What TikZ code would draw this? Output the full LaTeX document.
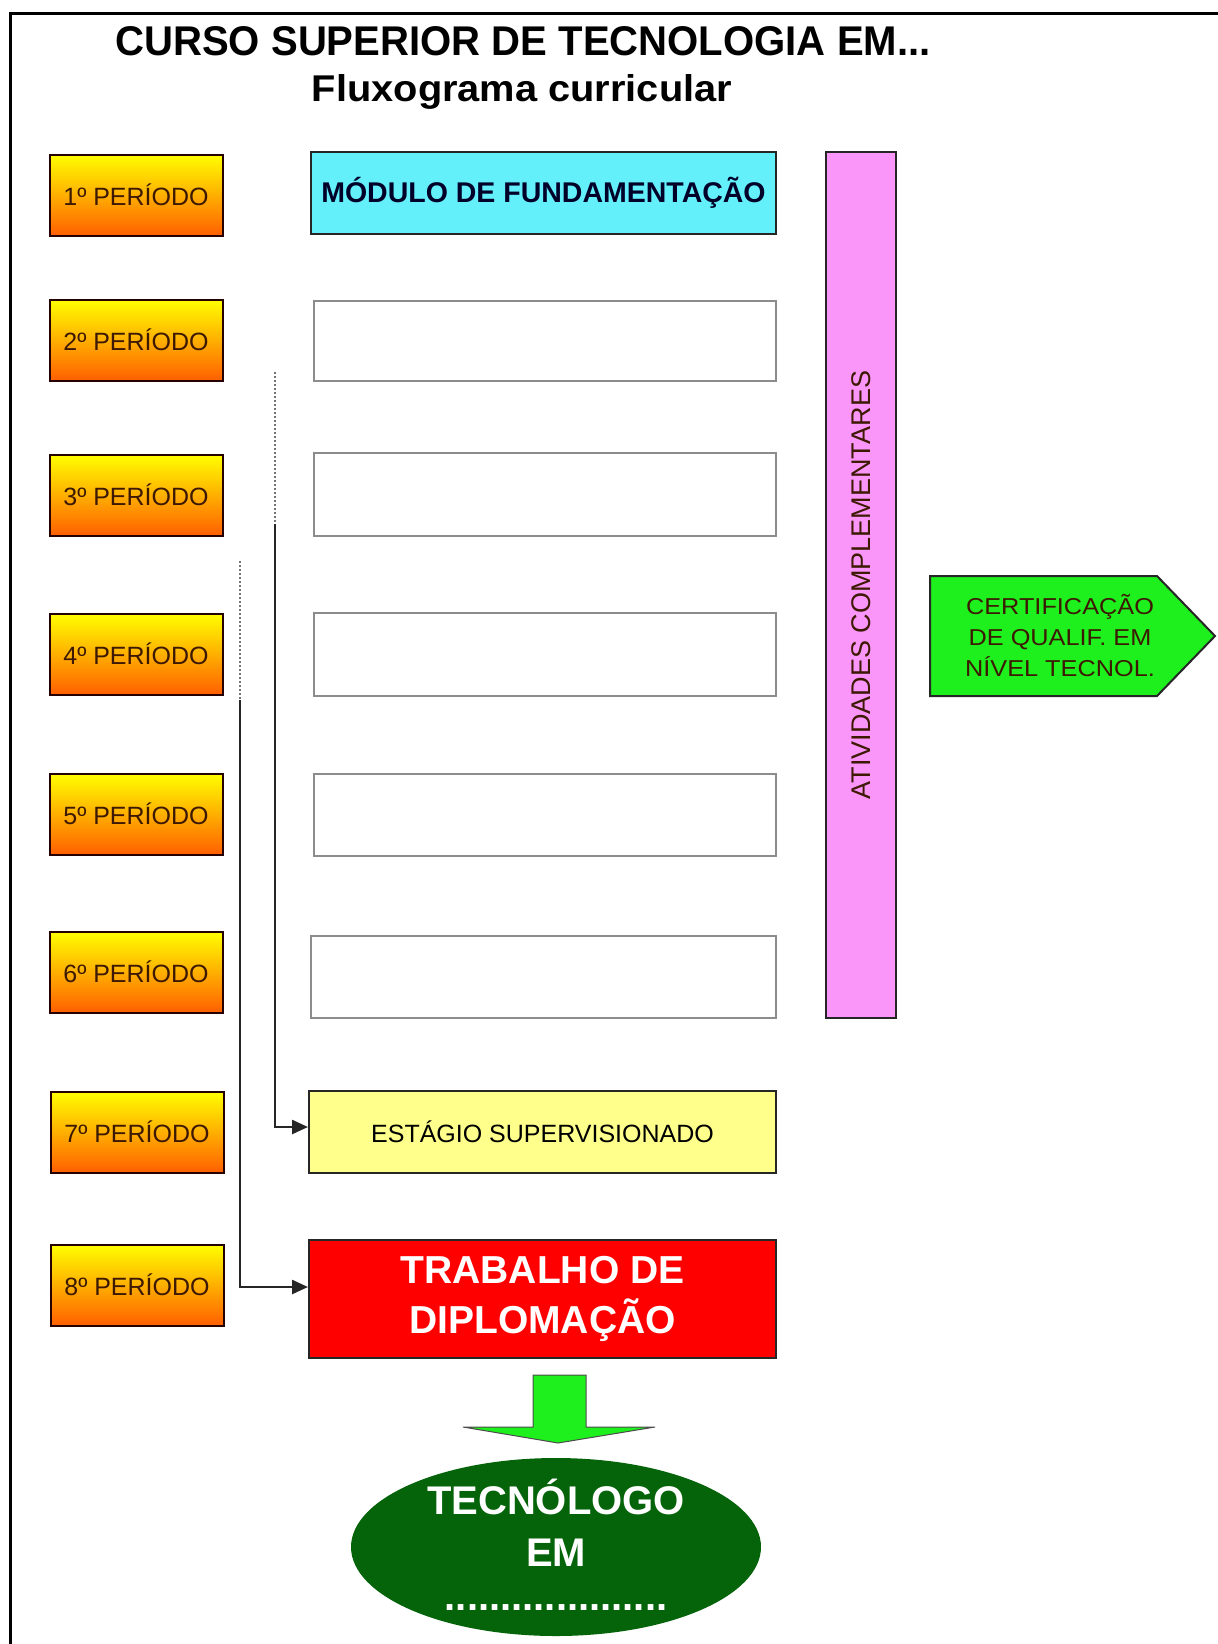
\documentclass[tikz,border=0pt]{standalone}
\usepackage{fontspec}
\usepackage{graphicx}
\setmainfont{Liberation Sans}
\usetikzlibrary{arrows.meta,shapes.geometric}
\definecolor{cyanbox}{RGB}{100,240,250}
\definecolor{pinkbox}{RGB}{250,150,250}
\definecolor{greenbox}{RGB}{30,240,30}
\definecolor{yelbox}{RGB}{255,255,140}
\definecolor{redbox}{RGB}{255,0,0}
\definecolor{darkgreen}{RGB}{5,100,10}
\definecolor{perorange}{RGB}{255,95,0}
\definecolor{pertext}{RGB}{60,25,0}
\definecolor{emptyedge}{RGB}{140,140,140}
\definecolor{navytext}{RGB}{0,0,40}
\begin{document}
\begin{tikzpicture}[x=1pt,y=-1pt,
  period/.style={draw=black!85!red, line width=2pt, top color=yellow, bottom color=perorange,
    minimum width=173pt, minimum height=81pt, inner sep=0pt, text=pertext,
    font=\fontsize{25}{30}\selectfont},
  emptybox/.style={draw=emptyedge, line width=2pt, fill=white, minimum width=462pt, inner sep=0pt},
  modbox/.style={draw=black!85, line width=2pt, inner sep=0pt},
  connector/.style={line width=2.5pt, draw=black!85},
  dotline/.style={line width=2pt, draw=black!55, dash pattern=on 2pt off 2pt},
  tip/.style={-{Triangle[length=16pt,width=14pt]}}
]
\useasboundingbox (0,0) rectangle (1218,1644);
% frame
\draw[line width=3pt] (10,13.5) -- (1218,13.5);
\draw[line width=3pt] (10,12) -- (10,1644);

% titles
\node[anchor=base, inner sep=0pt] (title1) at (523,55)
  {\resizebox{815pt}{29pt}{\bfseries CURSO SUPERIOR DE TECNOLOGIA EM...}};
\node[anchor=base, inner sep=0pt] (title2) at (522,101)
  {\resizebox{420pt}{27pt}{\bfseries Fluxograma curricular}};

% periods
\node[period] (p1) at (136,195) {1º PERÍODO};
\node[period] (p2) at (136,340) {2º PERÍODO};
\node[period] (p3) at (136,495) {3º PERÍODO};
\node[period] (p4) at (136,654) {4º PERÍODO};
\node[period] (p5) at (136,814) {5º PERÍODO};
\node[period] (p6) at (136,972) {6º PERÍODO};
\node[period] (p7) at (137,1132) {7º PERÍODO};
\node[period] (p8) at (137,1285) {8º PERÍODO};

% modules
\node[modbox, fill=cyanbox, minimum width=465pt, minimum height=82pt, text=navytext,
  font=\fontsize{28.5}{32}\selectfont\bfseries] (mod) at (543.5,193) {MÓDULO DE FUNDAMENTAÇÃO};
\node[emptybox, minimum height=80pt] (m2) at (545,341) {};
\node[emptybox, minimum height=83pt] (m3) at (545,494.5) {};
\node[emptybox, minimum height=83pt] (m4) at (545,654.5) {};
\node[emptybox, minimum height=82pt] (m5) at (545,815) {};
\node[emptybox, minimum width=465pt, minimum height=82pt] (m6) at (543.5,977) {};

\node[modbox, fill=pinkbox, minimum width=866pt, minimum height=70pt, rotate=90,
  text=pertext, font=\fontsize{27}{30}\selectfont] (ativ) at (861,585) {ATIVIDADES COMPLEMENTARES};

\node[modbox, fill=yelbox, minimum width=467pt, minimum height=82pt, text=black,
  font=\fontsize{25}{30}\selectfont] (est) at (542.5,1132) {ESTÁGIO SUPERVISIONADO};
\node[modbox, fill=redbox, minimum width=467pt, minimum height=118pt, text=white, align=center,
  font=\fontsize{39}{50}\selectfont\bfseries] (trab) at (542.5,1299) {TRABALHO DE\\DIPLOMAÇÃO};

% certification arrow
\filldraw[fill=greenbox, draw=black!85, line width=2pt]
  (930,576) -- (1157,576) -- (1215,636) -- (1157,696) -- (930,696) -- cycle;
\node[align=center, text=pertext, font=\fontsize{23}{31}\selectfont, inner sep=0pt] (cert) at (1060,636)
  {\scalebox{1.1}[1]{CERTIFICAÇÃO}\\\scalebox{1.1}[1]{DE QUALIF. EM}\\\scalebox{1.1}[1]{NÍVEL TECNOL.}};

% down block arrow
\filldraw[fill=greenbox, draw=black!70, line width=1pt]
  (533,1375) -- (586,1375) -- (586,1427) -- (655,1427) -- (558,1443) -- (463,1427) -- (533,1427) -- cycle;

% final ellipse
\node[ellipse, fill=darkgreen, minimum width=410pt, minimum height=178pt, inner sep=0pt] (tec) at (556,1547) {};
\node[anchor=base, text=white, font=\fontsize{40}{48}\selectfont\bfseries, inner sep=0pt] (tec1) at (556,1514) {TECNÓLOGO};
\node[anchor=base, text=white, font=\fontsize{40}{48}\selectfont\bfseries, inner sep=0pt] (tec2) at (556,1566) {EM};
\node[anchor=base, text=white, font=\fontsize{40}{48}\selectfont\bfseries, inner sep=0pt] (tec3) at (556,1610) {....................};

% connectors
\coordinate (a0) at (275,372);
\coordinate (a1) at (275,524);
\coordinate (b0) at (240,561);
\coordinate (b1) at (240,700);
\draw[dotline] (a0) -- (a1);
\draw[dotline] (b0) -- (b1);
\draw[connector, tip] (a1) |- ([yshift=5pt]est.west);
\draw[connector, tip] (b1) |- ([yshift=12pt]trab.west);
\end{tikzpicture}
\end{document}
